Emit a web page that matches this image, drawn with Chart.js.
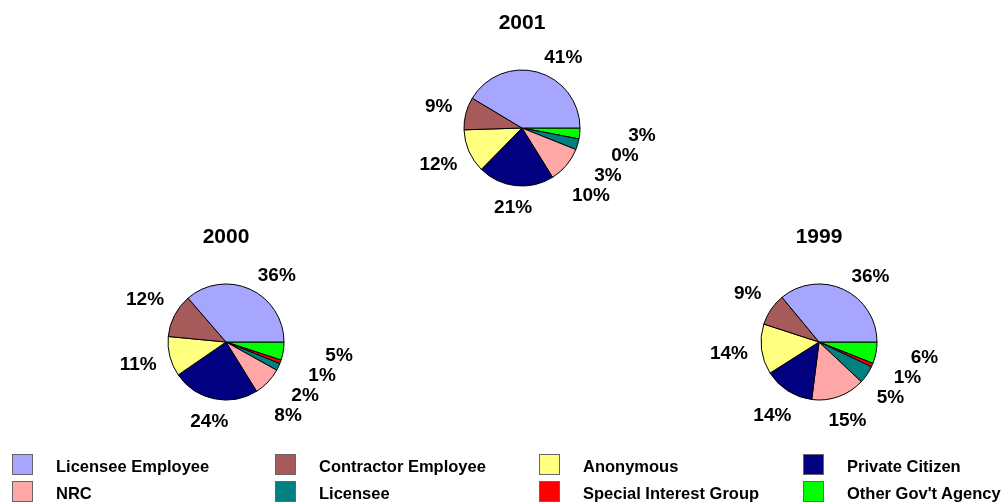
<!DOCTYPE html>
<html>
<head>
<meta charset="utf-8">
<script src="https://cdn.jsdelivr.net/npm/chart.js@4"></script>
<style>
body { margin:0; width:1007px; height:504px; overflow:hidden; background:#fff; position:relative; font-family:"Liberation Sans", Arial, sans-serif; }
canvas { position:absolute; }
.key { position:absolute; width:21px; height:21px; box-sizing:border-box; border:1px solid #666; }
.keyText { position:absolute; font-weight:bold; font-size:16.5px; line-height:21px; color:#000; white-space:pre; }
</style>
</head>
<body>
<canvas id="pie2001" width="300" height="300" style="left:372px;top:-22px"></canvas>
<canvas id="pie2000" width="300" height="300" style="left:76px;top:192px"></canvas>
<canvas id="pie1999" width="300" height="300" style="left:669px;top:192px"></canvas>
<div id="legend"></div>
<script>
const categories = ['Licensee Employee', 'Contractor Employee', 'Anonymous', 'Private Citizen',
                    'NRC', 'Licensee', 'Special Interest Group', "Other Gov't Agency"];
const colors = ['#A6A6FF', '#A65A5A', '#FFFF80', '#000080', '#FFA6A6', '#008080', '#FF0000', '#00FF00'];
const years = ['2001', '2000', '1999'];
const values2001 = [41, 9, 12, 21, 10, 3, 0, 3];
const values2000 = [36, 12, 11, 24, 8, 2, 1, 5];
const values1999 = [36, 9, 14, 14, 15, 5, 1, 6];
const yearValues = [values2001, values2000, values1999];

// slices run counter-clockwise from 3 o'clock, so feed them reversed
const drawOrder = categories.map((_, i) => i).reverse();

const pctLabels = {
  id: 'pctLabels',
  afterDraw(chart, args, opts) {
    const ctx = chart.ctx;
    const meta = chart.getDatasetMeta(0);
    const vals = chart.data.datasets[0].data;
    let cx, cy, r;
    ctx.save();
    ctx.font = 'bold 19px "Liberation Sans", Arial, sans-serif';
    ctx.textAlign = 'center';
    ctx.textBaseline = 'middle';
    ctx.fillStyle = '#000';
    const items = meta.data.map((arc, i) => {
      const p = arc.getProps(['x', 'y', 'startAngle', 'endAngle', 'outerRadius'], true);
      cx = p.x; cy = p.y; r = p.outerRadius;
      let a = (p.startAngle + p.endAngle) / 2;
      let gap = 13;
      // wide slices: label sits nearer the slice's leading edge
      if (p.endAngle - p.startAngle > 2) { a += 0.2 * (p.endAngle - a); gap = 8; }
      const text = vals[i] + '%';
      const w = ctx.measureText(text).width;
      const c = Math.cos(a), s = Math.sin(a);
      const d = r + gap + w / 2 * Math.abs(c) + 7 * Math.abs(s);
      return { text, x: cx + d * c, y: cy + d * s, right: c >= 0 };
    });
    // keep crowded labels apart, stepping them out diagonally
    [true, false].forEach(side => {
      const list = items.filter(l => l.right === side).sort((a, b) => a.y - b.y);
      for (let i = 1; i < list.length; i++) {
        if (list[i].y < list[i - 1].y + 20) list[i].y = list[i - 1].y + 20;
      }
      for (let i = list.length - 2; i >= 0; i--) {
        if (list[i + 1].y - list[i].y < 30) {
          list[i].x = side ? Math.max(list[i].x, list[i + 1].x + 17)
                           : Math.min(list[i].x, list[i + 1].x - 17);
        }
      }
    });
    items.forEach(l => ctx.fillText(l.text, l.x, l.y));
    ctx.font = 'bold 21px "Liberation Sans", Arial, sans-serif';
    ctx.fillText(opts.title, cx, cy - r - 47);
    ctx.restore();
  }
};

years.forEach((yr, k) => {
  const vals = yearValues[k];
  new Chart(document.getElementById('pie' + yr), {
    type: 'pie',
    data: {
      labels: drawOrder.map(i => categories[i]),
      datasets: [{
        data: drawOrder.map(i => vals[i]),
        backgroundColor: drawOrder.map(i => colors[i]),
        borderColor: '#000',
        borderWidth: 1
      }]
    },
    options: {
      responsive: false,
      animation: false,
      rotation: 90,
      layout: { padding: 91.5 },
      plugins: {
        legend: { display: false },
        tooltip: { enabled: false },
        pctLabels: { title: yr }
      }
    },
    plugins: [pctLabels]
  });
});

// legend, 4 columns x 2 rows
const legendCols = [12, 275, 539, 803];
const legendRows = [454, 481];
const legend = document.getElementById('legend');
categories.forEach((name, i) => {
  const x = legendCols[i % 4], y = legendRows[Math.floor(i / 4)];
  const box = document.createElement('div');
  box.className = 'key';
  box.style.left = x + 'px';
  box.style.top = y + 'px';
  box.style.background = colors[i];
  legend.appendChild(box);
  const txt = document.createElement('div');
  txt.className = 'keyText';
  txt.style.left = (x + 44) + 'px';
  txt.style.top = (y + 2) + 'px';
  txt.textContent = name;
  legend.appendChild(txt);
});
</script>
</body>
</html>
